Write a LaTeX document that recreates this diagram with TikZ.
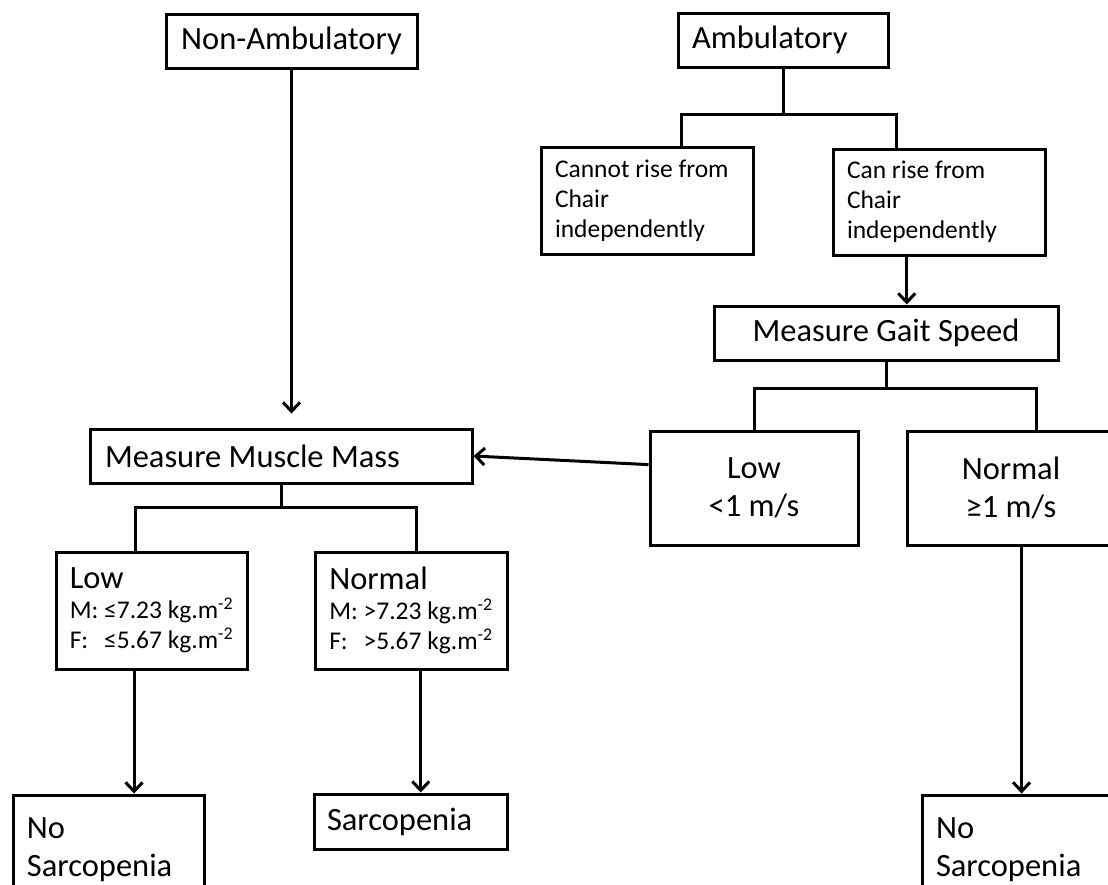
\documentclass[tikz,border=0pt]{standalone}
\usepackage{fontspec}
\setmainfont{Carlito}
\usetikzlibrary{arrows.meta, calc, positioning}

\newcommand{\bigfnt}{\fontsize{32.5}{38}\selectfont}
\newcommand{\smallfnt}{\fontsize{25.5}{30}\selectfont}

\begin{document}
\begin{tikzpicture}[
    x=1pt, y=-1pt,
    box/.style={draw, line width=3pt, inner sep=0pt, font=\bigfnt},
    lbox/.style={box, align=flush left, inner xsep=14pt},
    link/.style={line width=3pt},
    arr/.style={line width=3pt, -{Straight Barb[length=9pt, width=17pt]}}
]
\useasboundingbox (0,0) rectangle (1108,884);
\clip (0,0) rectangle (1108,884);

% top row
\node[box, minimum width=251pt, minimum height=54pt] (nonamb) at (291.5, 41) {Non-Ambulatory};
\node[lbox, text width=182pt, minimum height=54pt] (amb) at (783, 40) {Ambulatory};

% chair test
\node[lbox, font=\smallfnt, text width=184pt, minimum height=107pt] (cannot) at (647, 200.5) {Cannot rise from\\Chair\\independently};
\node[lbox, font=\smallfnt, text width=184pt, minimum height=106pt] (canrise) at (939, 202) {Can rise from\\Chair\\independently};

% gait speed
\node[box, minimum width=344pt, minimum height=54pt] (gait) at (886, 333) {Measure Gait Speed};
\node[box, align=center, minimum width=208pt, minimum height=114pt] (lowgait) at (754, 488) {Low\\<1 m/s};
\node[box, align=center, minimum width=208pt, minimum height=114pt] (normgait) at (1011, 488) {Normal\\≥1 m/s};

% muscle mass
\node[lbox, inner xsep=15pt, text width=352pt, minimum height=54pt] (mmm) at (281, 456) {Measure Muscle Mass};
\node[box, align=flush left, font=\smallfnt, minimum width=191pt, minimum height=117pt] (lowmm) at (151.5, 610.5)
    {{\bigfnt Low}\\M: ≤7.23 kg.m\textsuperscript{-2}\\\rlap{F:}\phantom{M:} ≤5.67 kg.m\textsuperscript{-2}};
\node[box, align=flush left, font=\smallfnt, minimum width=192pt, minimum height=117pt] (normmm) at (411, 610.5)
    {{\bigfnt Normal}\\M: >7.23 kg.m\textsuperscript{-2}\\\rlap{F:}\phantom{M:} >5.67 kg.m\textsuperscript{-2}};

% outcomes
\node[lbox, text width=163pt, minimum height=110pt] (nosarcl) at (108.5, 850) {No\\Sarcopenia};
\node[lbox, inner xsep=13pt, text width=167pt, minimum height=55pt] (sarc) at (410.5, 821.5) {Sarcopenia};
\node[lbox, text width=163pt, minimum height=110pt] (nosarcr) at (1017.5, 850) {No\\Sarcopenia};

% ambulatory split
\draw[link] (amb.south) -- ++(0,46) coordinate (ambbus);
\draw[link] ($(cannot.north west)!.66!(cannot.north east)$) |- (ambbus) -| ($(canrise.north west)!.3!(canrise.north east)$);
\coordinate (canriseout) at ($(canrise.south west)!.35!(canrise.south east)$);
\draw[arr] (canriseout) -- (canriseout |- gait.north);

% gait split
\draw[link] (gait.south) -- ++(0,27) coordinate (gaitbus);
\draw[link] (lowgait.north) |- (gaitbus) -| ($(normgait.north west)!.62!(normgait.north east)$);
\draw[arr] ($(lowgait.north west)!.3!(lowgait.south west)$) -- (mmm.east);
\coordinate (normgaitout) at ($(normgait.south west)!.55!(normgait.south east)$);
\draw[arr] (normgaitout) -- (normgaitout |- nosarcr.north);

% non-ambulatory goes straight to muscle mass
\draw[arr, shorten >=14pt] (nonamb.south) -- (nonamb.south |- mmm.north);

% muscle mass split
\draw[link] (mmm.south) -- ++(0,23) coordinate (mmmbus);
\draw[link] ($(lowmm.north west)!.42!(lowmm.north east)$) |- (mmmbus) -| ($(normmm.north west)!.53!(normmm.north east)$);
\coordinate (lowmmout) at ($(lowmm.south west)!.41!(lowmm.south east)$);
\draw[arr] (lowmmout) -- (lowmmout |- nosarcl.north);
\coordinate (normmmout) at ($(normmm.south west)!.55!(normmm.south east)$);
\draw[arr] (normmmout) -- (normmmout |- sarc.north);
\end{tikzpicture}
\end{document}
